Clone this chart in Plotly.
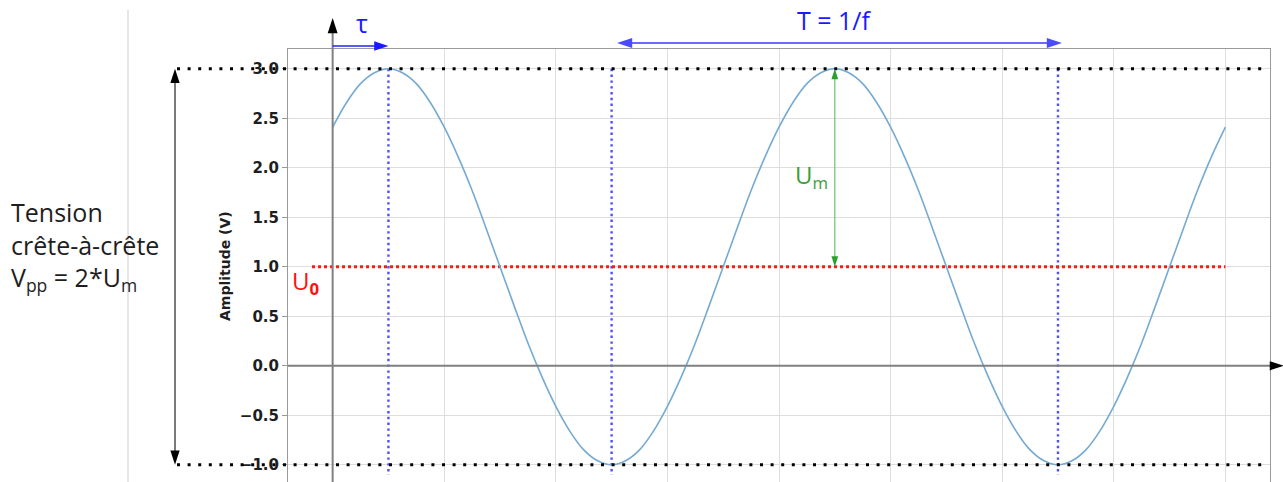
import plotly.graph_objects as go

# ---------------- data ----------------
t_period = [0.0, 0.03125, 0.0625, 0.09375, 0.125, 0.15625, 0.1875, 0.21875,
            0.25, 0.28125, 0.3125, 0.34375, 0.375, 0.40625, 0.4375, 0.46875,
            0.5, 0.53125, 0.5625, 0.59375, 0.625, 0.65625, 0.6875, 0.71875,
            0.75, 0.78125, 0.8125, 0.84375, 0.875, 0.90625, 0.9375, 0.96875,
            1.0, 1.03125, 1.0625, 1.09375, 1.125, 1.15625, 1.1875, 1.21875,
            1.25, 1.28125, 1.3125, 1.34375, 1.375, 1.40625, 1.4375, 1.46875,
            1.5, 1.53125, 1.5625, 1.59375, 1.625, 1.65625, 1.6875, 1.71875,
            1.75, 1.78125, 1.8125, 1.84375, 1.875, 1.90625, 1.9375, 1.96875,
            2.0]
amplitude_v = [2.41, 2.66, 2.85, 2.96, 3.0, 2.96, 2.85, 2.66,
               2.41, 2.11, 1.77, 1.39, 1.0, 0.61, 0.23, -0.11,
               -0.41, -0.66, -0.85, -0.96, -1.0, -0.96, -0.85, -0.66,
               -0.41, -0.11, 0.23, 0.61, 1.0, 1.39, 1.77, 2.11,
               2.41, 2.66, 2.85, 2.96, 3.0, 2.96, 2.85, 2.66,
               2.41, 2.11, 1.77, 1.39, 1.0, 0.61, 0.23, -0.11,
               -0.41, -0.66, -0.85, -0.96, -1.0, -0.96, -0.85, -0.66,
               -0.41, -0.11, 0.23, 0.61, 1.0, 1.39, 1.77, 2.11,
               2.41]
U0 = 1.0          # offset
Um = 2.0          # amplitude
T = 1.0           # period
tau = 0.125       # delay
y_tick_values = [-1.0, -0.5, 0.0, 0.5, 1.0, 1.5, 2.0, 2.5, 3.0]
y_tick_labels = ["\u22121.0", "\u22120.5", "0.0", "0.5", "1.0", "1.5", "2.0", "2.5", "3.0"]
x_grid_step = 0.25

label_vpp = "Tension<br>crête-à-crête<br>V<sub>pp</sub> = 2*U<sub>m</sub>"
label_um = "U<sub>m</sub>"
label_u0 = "U<sub><b>0</b></sub>"
label_tau = "τ"
label_T = "T = 1/f"
label_y = "<b>Amplitude (V)</b>"

# ---------------- layout geometry (pixels) ----------------
W, H = 1283, 482
PL, PR, PT, PB = 288, 1270, 49, 482
XR = [-0.1, 2.1]
YR = [-1.174, 3.2]
sx = (PR - PL) / (XR[1] - XR[0])
sy = (PB - PT) / (YR[1] - YR[0])
X2R = [XR[0] - PL / sx, XR[1] + (W - PR) / sx]
Y2R = [YR[0] - (H - PB) / sy, YR[1] + PT / sy]


def px_x(p):
    return XR[0] + (p - PL) / sx


def px_y(p):
    return YR[1] - (p - PT) / sy


top = U0 + Um
bot = U0 - Um
FONT = "Open Sans"
GRID = "#dedede"
FRAME = "#9a9a9a"
AXIS = "#808080"

fig = go.Figure()

# blue dotted verticals (tau, troughs)
xs, ys = [], []
for xv in [tau, tau + T / 2, tau + 3 * T / 2]:
    xs += [xv, xv, None]
    ys += [top, px_y(475), None]
fig.add_trace(go.Scatter(x=xs, y=ys, mode="lines",
                         line=dict(color="#4f4fff", width=2.4, dash="2.4px,3.4px"),
                         hoverinfo="skip"))

# red dotted offset line
fig.add_trace(go.Scatter(x=[px_x(312), t_period[-1]], y=[U0, U0], mode="lines",
                         line=dict(color="#ff1a1a", width=3, dash="3px,3px"),
                         hoverinfo="skip"))

# signal
fig.add_trace(go.Scatter(x=t_period, y=amplitude_v, mode="lines",
                         line=dict(color="#74aad3", width=1.6, shape="spline"),
                         hoverinfo="skip"))

aux = dict(xaxis="x2", yaxis="y2", hoverinfo="skip")

# thin page separator line
fig.add_trace(go.Scatter(x=[px_x(128), px_x(128)], y=[px_y(10), Y2R[0]], mode="lines",
                         line=dict(color="#cfcfcf", width=1), **aux))

# axis arrows (lines)
fig.add_trace(go.Scatter(x=[XR[0], px_x(1276)], y=[0, 0], mode="lines",
                         line=dict(color=AXIS, width=2), **aux))
fig.add_trace(go.Scatter(x=[0, 0], y=[Y2R[0], px_y(25)], mode="lines",
                         line=dict(color=AXIS, width=2), **aux))

# black dotted peak / trough lines
fig.add_trace(go.Scatter(x=[px_x(177), px_x(1262), None, px_x(177), px_x(1262)],
                         y=[top, top, None, bot, bot], mode="lines",
                         line=dict(color="black", width=3, dash="3px,7.6px"), **aux))

# peak-to-peak double arrow
fig.add_trace(go.Scatter(x=[px_x(175), px_x(175)], y=[top - 0.06, bot + 0.06], mode="lines",
                         line=dict(color="#222222", width=1.2), **aux))

# tau arrow
fig.add_trace(go.Scatter(x=[0, tau - 0.015], y=[px_y(46), px_y(46)], mode="lines",
                         line=dict(color="#2020ff", width=1.6), **aux))

# period arrow
fig.add_trace(go.Scatter(x=[px_x(622), px_x(1057)], y=[px_y(43), px_y(43)], mode="lines",
                         line=dict(color="#6a6aff", width=2), **aux))

# amplitude arrow
fig.add_trace(go.Scatter(x=[tau + T, tau + T], y=[top - 0.04, U0 + 0.04], mode="lines",
                         line=dict(color="#6cc06c", width=1.2), **aux))

# arrow heads
heads = [
    # x, y, angle, size, color
    (px_x(1284), 0, 90, 15, "black"),
    (0, px_y(18), 0, 16, "black"),
    (px_x(175), top, 0, 15, "black"),
    (px_x(175), bot, 180, 15, "black"),
    (tau, px_y(46), 90, 15, "#1a1aff"),
    (px_x(617), px_y(43), 270, 16, "#4a4aff"),
    (px_x(1062), px_y(43), 90, 16, "#4a4aff"),
    (tau + T, top, 0, 11, "#2ca02c"),
    (tau + T, U0, 180, 11, "#2ca02c"),
]
for hx, hy, ang, sz, col in heads:
    fig.add_trace(go.Scatter(x=[hx], y=[hy], mode="markers",
                             marker=dict(symbol="arrow", size=sz, angle=ang, color=col,
                                         line=dict(width=0)), **aux))

annotations = [
    dict(x=px_x(9), y=px_y(246), text=label_vpp, xanchor="left", yanchor="middle",
         align="left", font=dict(family=FONT, size=25, color="#1e1e1e")),
    dict(x=px_x(811), y=px_y(176), text=label_um, xanchor="center", yanchor="middle",
         font=dict(family=FONT, size=24, color="#3a9d3a")),
    dict(x=px_x(305), y=px_y(282), text=label_u0, xanchor="center", yanchor="middle",
         font=dict(family=FONT, size=24, color="#ff1010")),
    dict(x=px_x(362), y=px_y(23), text=label_tau, xanchor="center", yanchor="middle",
         font=dict(family=FONT, size=25, color="#1a1aff")),
    dict(x=px_x(834), y=px_y(20), text=label_T, xanchor="center", yanchor="middle",
         font=dict(family=FONT, size=25, color="#1a1aff")),
    dict(x=px_x(225), y=px_y(266), text=label_y, xanchor="center", yanchor="middle",
         textangle=-90, font=dict(family="DejaVu Sans", size=14, color="#1e1e1e")),
]
for a in annotations:
    a.update(xref="x2", yref="y2", showarrow=False)

fig.update_layout(
    width=W, height=H,
    margin=dict(l=0, r=0, t=0, b=0),
    paper_bgcolor="white", plot_bgcolor="rgba(0,0,0,0)",
    showlegend=False,
    annotations=annotations,
    xaxis=dict(domain=[PL / W, PR / W], range=XR, tick0=0, dtick=x_grid_step,
               showgrid=True, gridcolor=GRID, gridwidth=1, showticklabels=False,
               ticks="", zeroline=False, showline=True, side="top",
               linecolor=FRAME, linewidth=1, anchor="y"),
    yaxis=dict(domain=[(H - PB) / H, (H - PT) / H], range=YR,
               tickvals=y_tick_values, ticktext=y_tick_labels,
               showgrid=True, gridcolor=GRID, gridwidth=1,
               ticks="outside", ticklen=5, tickcolor=FRAME, tickwidth=1,
               tickfont=dict(family="DejaVu Sans", size=15, color="#1e1e1e", weight="bold"),
               zeroline=False, showline=True, mirror=True,
               linecolor=FRAME, linewidth=1, anchor="x"),
    xaxis2=dict(domain=[0, 1], range=X2R, visible=False, anchor="y2"),
    yaxis2=dict(domain=[0, 1], range=Y2R, visible=False, anchor="x2"),
)

fig.write_html("out.html", config={"displayModeBar": False},
               post_script="document.body.style.margin='0';document.body.style.overflow='hidden';")
